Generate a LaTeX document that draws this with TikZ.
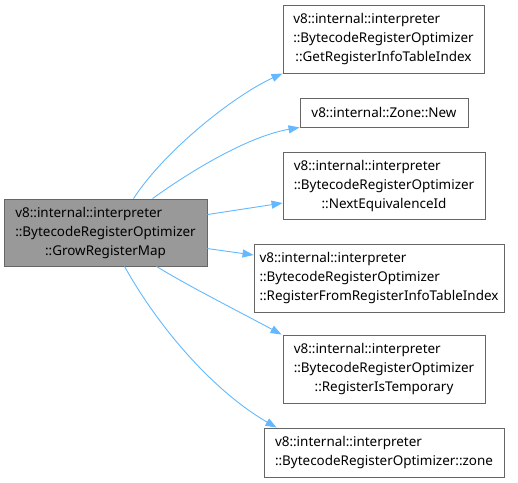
\documentclass[tikz,border=0pt]{standalone}
\usepackage{fontspec}
\setmainfont{Noto Sans}
\usetikzlibrary{arrows.meta,calc}
\definecolor{edgeblue}{HTML}{63B8FF}
\definecolor{boxborder}{HTML}{666666}
\definecolor{mainfill}{HTML}{999999}
\newcommand{\lbl}[3]{\begin{tabular}{@{}l@{}}#1\\#2\\\multicolumn{1}{@{}c@{}}{#3}\end{tabular}}
\begin{document}
\begin{tikzpicture}[x=1pt,y=-1pt,
  box/.style={draw=boxborder,fill=white,line width=0.9pt,inner sep=0pt,
    font=\fontsize{13.45}{19}\selectfont},
  mainbox/.style={box,fill=mainfill},
  edge/.style={draw=edgeblue,line width=0.9pt,-{Triangle[length=11pt,width=8pt]}}]
\useasboundingbox (0,0) rectangle (518,482);
\node[mainbox,minimum width=203,minimum height=67] (main) at (105.5,232.5)
  {\lbl{v8::internal::interpreter}{::BytecodeRegisterOptimizer}{::GrowRegisterMap}};
\node[box,minimum width=201,minimum height=68] (b1) at (383.5,39)
  {\lbl{v8::internal::interpreter}{::BytecodeRegisterOptimizer}{::GetRegisterInfoTableIndex}};
\node[box,minimum width=168,minimum height=29] (b2) at (384,112.5)
  {v8::internal::Zone::New};
\node[box,minimum width=202,minimum height=67] (b3) at (384,185.5)
  {\lbl{v8::internal::interpreter}{::BytecodeRegisterOptimizer}{::NextEquivalenceId}};
\node[box,minimum width=250,minimum height=68] (b4) at (379,278)
  {\lbl{v8::internal::interpreter}{::BytecodeRegisterOptimizer}{::RegisterFromRegisterInfoTableIndex}};
\node[box,minimum width=202,minimum height=68] (b5) at (384,369)
  {\lbl{v8::internal::interpreter}{::BytecodeRegisterOptimizer}{::RegisterIsTemporary}};
\node[box,minimum width=240,minimum height=49] (b6) at (384,452.5)
  {\begin{tabular}{@{}l@{}}v8::internal::interpreter\\::BytecodeRegisterOptimizer::zone\end{tabular}};
\coordinate (s1) at ($(main.north west)+(130,0)$);
\coordinate (s2) at ($(main.north west)+(149,0)$);
\coordinate (s3) at ($(main.north east)+(0,16)$);
\coordinate (s4) at ($(main.north east)+(0,50)$);
\coordinate (s5) at ($(main.south west)+(153,0)$);
\coordinate (s6) at ($(main.south west)+(121,0)$);
\draw[edge] (s1) .. controls (165,150) and (235,95) .. (b1.south west);
\draw[edge] (s2) .. controls (195,168) and (250,136) .. (b2.south west);
\draw[edge] (s3) -- ([yshift=-17.5]b3.west);
\draw[edge] (s4) -- ([yshift=23]b4.west);
\draw[edge] (s5) .. controls (190,287) and (240,312) .. ([xshift=-1]b5.north west);
\draw[edge] (s6) .. controls (160,330) and (215,392) .. ([xshift=13]b6.north west);
\end{tikzpicture}
\end{document}
